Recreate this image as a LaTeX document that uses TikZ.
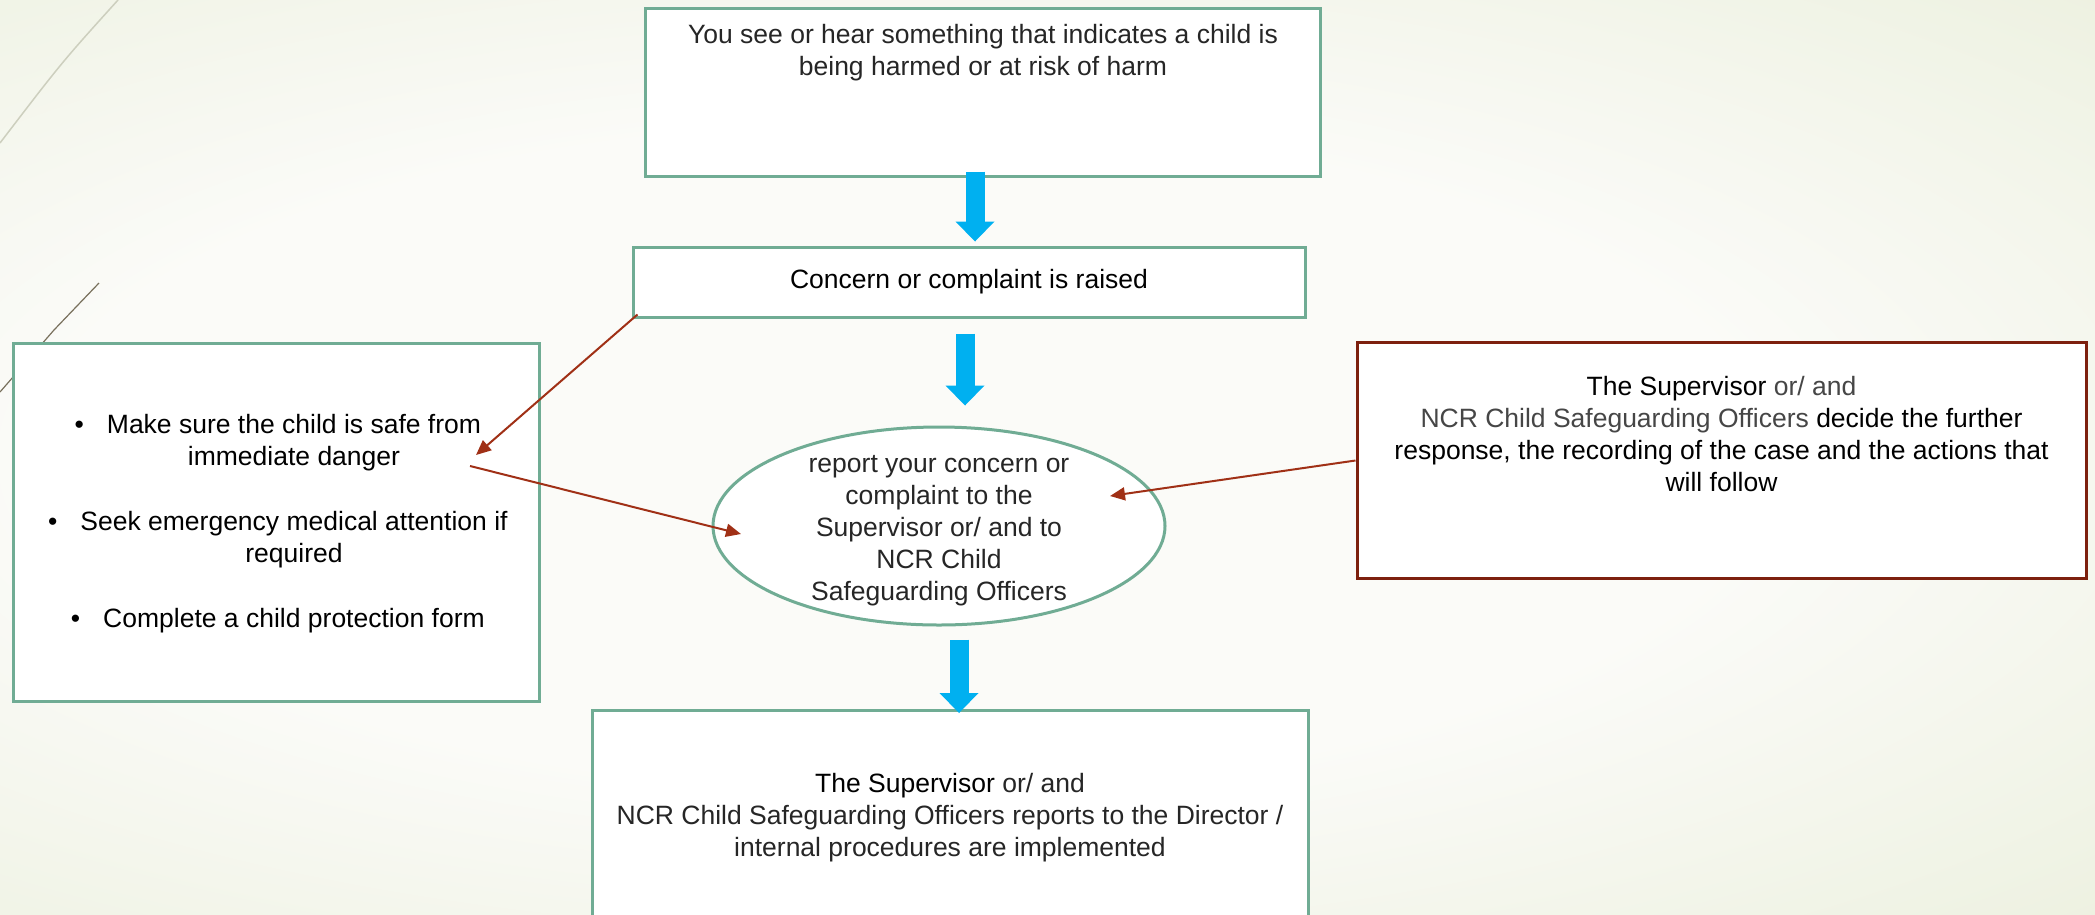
\documentclass[tikz,border=0pt]{standalone}
\usepackage{fontspec}
\setmainfont{Liberation Sans}
\usetikzlibrary{positioning, arrows.meta, shapes.geometric}
\definecolor{BoxGreen}{RGB}{112,172,148}
\definecolor{BoxRed}{RGB}{125,32,14}
\definecolor{LinkRed}{RGB}{160,48,22}
\definecolor{FlowBlue}{RGB}{0,176,240}
\definecolor{TextGray}{RGB}{70,70,70}
\definecolor{TextDark}{RGB}{38,38,38}
\definecolor{BgCenter}{RGB}{251,251,248}
\definecolor{BgEdge}{RGB}{226,233,206}
\definecolor{DecoLight}{RGB}{205,207,190}
\definecolor{DecoDark}{RGB}{120,112,92}
\pgfdeclareradialshading{slidebg}{\pgfpoint{0bp}{0bp}}{color(0bp)=(BgCenter); color(18bp)=(BgCenter); color(50bp)=(BgEdge)}
\newcommand{\officer}[1]{\textcolor{TextGray}{#1}}
\newcommand{\itembullet}{\llap{\textbullet\hspace{23pt}}}
\tikzset{
  flowbox/.style={rectangle, draw=BoxGreen, line width=3pt, fill=white, inner sep=0pt},
  decisionbox/.style={rectangle, draw=BoxRed, line width=3pt, fill=white, inner sep=0pt},
  reportoval/.style={ellipse, draw=BoxGreen, line width=3pt, fill=white, inner sep=0pt},
  boxtext/.style={font=\fontsize{26.5pt}{32pt}\selectfont, align=center, inner sep=0pt, text=TextDark},
  flow arrow/.style={line width=19pt, FlowBlue, -{Triangle[length=20pt, width=39pt, line width=0pt]}},
  link/.style={line width=2pt, LinkRed, -{Triangle[length=15pt, width=13pt]}}
}

\begin{document}
\begin{tikzpicture}[x=1pt, y=-1pt]
    \useasboundingbox (0,0) rectangle (2095,914);

    % Background
    \begin{scope}
        \clip (0,0) rectangle (2095,914);
        \shade[shading=slidebg] (-295,0) rectangle (2095,914);
        \draw[DecoLight, line width=1.5pt] (118,0) .. controls (62,62) .. (0,143);
        \draw[DecoDark, line width=1.2pt] (99,283) -- (54,330) -- (0,392);
    \end{scope}

    % Top box
    \node[flowbox, minimum width=675pt, minimum height=168pt, anchor=north west] (see) at (644,7) {};
    \node[boxtext, below=17pt of see.north] (seetxt) {You see or hear something that indicates a child is\\being harmed or at risk of harm};

    % Concern raised
    \node[flowbox, boxtext, text=black, minimum width=672pt, minimum height=70pt] (concern) at (969,282) {Concern or complaint is raised};

    % Report oval
    \node[reportoval, minimum width=452pt, minimum height=198pt] (report) at (939,526) {};
    \node[boxtext] (reporttxt) at (939,531) {report your concern or\\complaint to the\\Supervisor or/ and to\\NCR Child\\Safeguarding Officers};

    % Immediate actions
    \node[flowbox, minimum width=526pt, minimum height=358pt] (safe) at (276,522) {};
    \node[boxtext, text=black] (safetxt) at (294,524) {\itembullet Make sure the child is safe from\\immediate danger\\[33pt]\itembullet Seek emergency medical attention if\\required\\[33pt]\itembullet Complete a child protection form};

    % Decision box
    \node[decisionbox, minimum width=729pt, minimum height=236pt] (decide) at (1721.5,460.5) {};
    \node[boxtext, text=black, below=35pt of decide.north] (decidetxt) {The Supervisor \officer{or/ and}\\\officer{NCR Child Safeguarding Officers} decide the further\\response, the recording of the case and the actions that\\will follow};

    % Director box
    \node[flowbox, minimum width=716pt, minimum height=230pt, anchor=north] (director) at (950,709) {};
    \node[boxtext, below=64pt of director.north] (directortxt) {\textcolor{black}{The Supervisor} or/ and\\NCR Child Safeguarding Officers reports to the Director /\\internal procedures are implemented};

    % Flow arrows
    \draw[flow arrow] ([xshift=-8pt, yshift=6.5pt]see.south) coordinate (flowA) -- ([yshift=4pt]flowA |- concern.north);
    \draw[flow arrow] ([xshift=-4pt, yshift=-15pt]concern.south) coordinate (flowB) -- ([yshift=20pt]flowB |- report.north);
    \draw[flow arrow] ([xshift=20pt, yshift=-13pt]report.south) coordinate (flowC) -- ([yshift=-4pt]flowC |- director.north);

    % Links
    \coordinate (safeTip) at (476,455);
    \coordinate (safeTail) at (470,466);
    \coordinate (reportL) at (741,534);
    \coordinate (reportR) at (1110,496);
    \draw[link] ([xshift=6pt, yshift=4pt]concern.south west) -- (safeTip);
    \draw[link] (safeTail) -- (reportL);
    \draw[link] (decide.west) -- (reportR);
\end{tikzpicture}
\end{document}
